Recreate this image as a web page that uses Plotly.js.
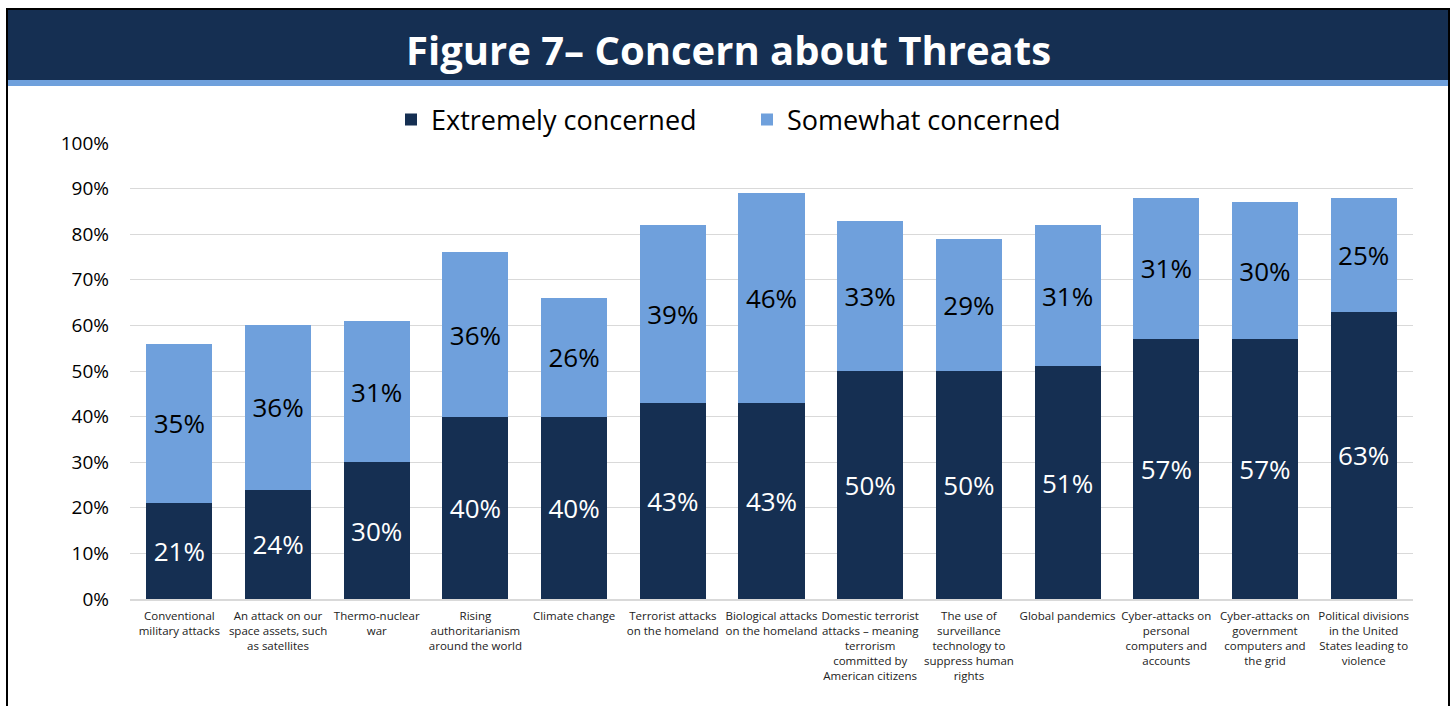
<!DOCTYPE html>
<html>
<head>
<meta charset="utf-8">
<script src="https://cdn.plot.ly/plotly-3.0.1.min.js"></script>
<style>
html,body{margin:0;padding:0;background:#fff;}
#chart{width:1452px;height:706px;}
</style>
</head>
<body>
<div id="chart"></div>
<script>
// ---- Data ----
const categories = [
  "Conventional<br>military attacks",
  "An attack on our<br>space assets, such<br>as satellites",
  "Thermo-nuclear<br>war",
  "Rising<br>authoritarianism<br>around the world",
  "Climate change",
  "Terrorist attacks<br>on the homeland",
  "Biological attacks<br>on the homeland",
  "Domestic terrorist<br>attacks – meaning<br>terrorism<br>committed by<br>American citizens",
  "The use of<br>surveillance<br>technology to<br>suppress human<br>rights",
  "Global pandemics",
  "Cyber-attacks on<br>personal<br>computers and<br>accounts",
  "Cyber-attacks on<br>government<br>computers and<br>the grid",
  "Political divisions<br>in the United<br>States leading to<br>violence"
];
const extremely = [21, 24, 30, 40, 40, 43, 43, 50, 50, 51, 57, 57, 63];
const somewhat  = [35, 36, 31, 36, 26, 39, 46, 33, 29, 31, 31, 30, 25];
const seriesNames = ["Extremely concerned", "Somewhat concerned"];
const titleText = "Figure 7– Concern about Threats";

// ---- Layout geometry (pixels) ----
const W = 1452, H = 706;
const plotL = 130, plotR = 1413, plotT = 143, plotB = 599;
const pw = plotR - plotL, ph = plotB - plotT;
const px = x => (x - plotL) / pw;
const py = y => (plotB - y) / ph;

const navy = "#152F52";
const lightBlue = "#6FA0DC";
const font = "'Open Sans', 'Noto Sans', sans-serif";

const traces = [
  {
    type: "bar", name: seriesNames[0], x: categories, y: extremely,
    marker: {color: navy},
    text: extremely.map(v => v + "%"), textposition: "inside", insidetextanchor: "middle",
    textangle: 0, textfont: {color: "#ffffff", size: 26, family: font},
    constraintext: "none", hoverinfo: "skip"
  },
  {
    type: "bar", name: seriesNames[1], x: categories, y: somewhat,
    marker: {color: lightBlue},
    text: somewhat.map(v => v + "%"), textposition: "inside", insidetextanchor: "middle",
    textangle: 0, textfont: {color: "#000000", size: 26, family: font},
    constraintext: "none", hoverinfo: "skip"
  }
];

const layout = {
  width: W, height: H,
  margin: {l: plotL, r: W - plotR, t: plotT, b: H - plotB, pad: 0},
  paper_bgcolor: "#ffffff", plot_bgcolor: "#ffffff",
  barmode: "stack", bargap: 0.33,
  font: {family: font, color: "#000"},
  showlegend: true,
  legend: {
    orientation: "h", x: px(747), xanchor: "center", y: py(120), yanchor: "middle",
    entrywidth: 311, entrywidthmode: "pixels",
    font: {size: 27, family: font, color: "#000"}, traceorder: "normal",
    itemclick: false, itemdoubleclick: false
  },
  xaxis: {
    type: "category", showgrid: false, zeroline: false,
    showline: true, linecolor: "#D9D9D9", linewidth: 2,
    ticks: "", ticklabelstandoff: 5,
    tickfont: {size: 11.5, family: font, color: "#222"},
    tickangle: 0, automargin: false, fixedrange: true
  },
  yaxis: {
    range: [0, 100], dtick: 10, ticksuffix: "%",
    showgrid: true, gridcolor: "#D9D9D9", gridwidth: 1,
    zeroline: false, showline: false, ticks: "",
    ticklabelstandoff: 20,
    tickfont: {size: 19, family: font, color: "#000"},
    automargin: false, fixedrange: true
  },
  shapes: [
    // navy banner
    {type: "rect", xref: "paper", yref: "paper", layer: "below",
     x0: px(7), x1: px(1449), y0: py(80), y1: py(9),
     fillcolor: navy, line: {width: 0}},
    // light-blue stripe
    {type: "rect", xref: "paper", yref: "paper", layer: "below",
     x0: px(7), x1: px(1449), y0: py(86), y1: py(80),
     fillcolor: lightBlue, line: {width: 0}},
    // outer border
    {type: "rect", xref: "paper", yref: "paper", layer: "above",
     x0: px(7), x1: px(1449), y0: py(720), y1: py(9),
     fillcolor: "rgba(0,0,0,0)", line: {color: "#000", width: 2}}
  ],
  annotations: [
    {xref: "paper", yref: "paper", x: px(728), y: py(50), xanchor: "center", yanchor: "middle",
     text: "<b>" + titleText + "</b>", showarrow: false,
     font: {size: 40, family: font, color: "#ffffff"}}
  ]
};

Plotly.newPlot("chart", traces, layout, {displayModeBar: false, staticPlot: true});
</script>
</body>
</html>
